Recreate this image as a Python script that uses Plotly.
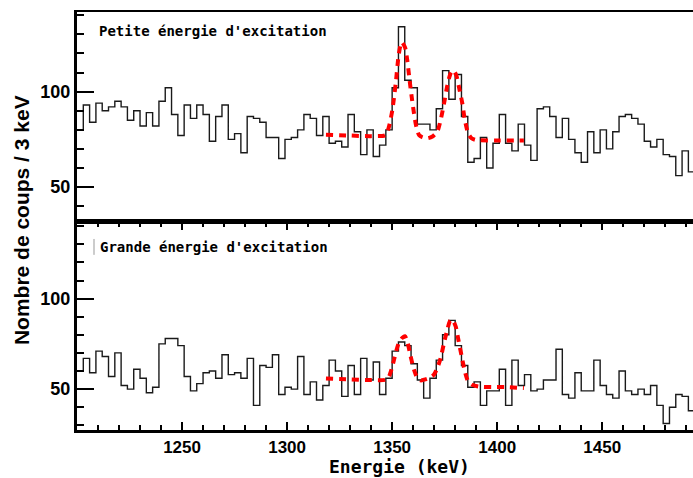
"""Two gamma spectra (3 keV bins) around 1350 keV, low and high excitation energy,
each with its two-peak fit drawn as a red dashed curve."""

import numpy as np
import plotly.graph_objects as go

BIN_START = 1200.0   # keV, left edge of the first bin
BIN_WIDTH = 3.0      # keV per bin

# counts per 3 keV bin, bins from 1200 keV upwards
counts_low = [
    80, 93, 84, 94, 90, 92, 95, 92, 85, 90,
    82, 89, 82, 95, 102, 88, 77, 93, 86, 93,
    88, 74, 87, 93, 75, 78, 68, 87, 86, 84,
    76, 76, 65, 75, 76, 80, 88, 86, 77, 87,
    73, 74, 71, 88, 79, 67, 80, 66, 72, 80,
    102, 134, 106, 102, 83, 83, 80, 91, 111, 96,
    109, 87, 63, 65, 76, 60, 73, 88, 73, 69,
    83, 72, 64, 91, 92, 87, 76, 86, 75, 68,
    63, 79, 68, 80, 70, 79, 87, 88, 86, 83,
    74, 71, 75, 67, 66, 56, 69, 58,
]
counts_high = [
    60, 67, 59, 71, 68, 57, 70, 52, 50, 61,
    56, 48, 51, 75, 78, 78, 74, 57, 49, 53,
    59, 60, 56, 69, 58, 59, 56, 67, 41, 63,
    62, 69, 47, 51, 50, 68, 47, 54, 44, 52,
    66, 60, 46, 63, 47, 67, 55, 65, 47, 56,
    71, 76, 74, 64, 55, 45, 56, 66, 80, 88,
    74, 63, 51, 54, 41, 49, 49, 61, 41, 66,
    52, 58, 49, 50, 55, 55, 72, 47, 45, 59,
    49, 49, 66, 52, 47, 45, 60, 49, 47, 50,
    47, 52, 41, 31, 40, 47, 46, 38,
]

# the fitted curves, sampled along the red dashes
fit_low_e = [1318.5, 1330, 1340, 1346.9, 1348.5, 1350.1, 1351.7, 1353.2, 1354.5, 1356.1,
             1357.2, 1358.3, 1359.3, 1360.4, 1361.5, 1362.8, 1364.4, 1366.8, 1369.2, 1371.5,
             1373.1, 1374.7, 1376.3, 1377.9, 1379.1, 1380.5, 1382.1, 1383.4, 1384.6, 1386.2,
             1387.8, 1389.7, 1399.2, 1412.7]
fit_low_c = [77.4, 77.0, 76.7, 77.3, 81.7, 90.4, 104.3, 119.9, 125.9, 123.3,
             116.4, 106.0, 97.3, 88.6, 81.7, 77.3, 76.1, 75.6, 76.5, 79.1,
             85.2, 93.8, 103.4, 109.8, 111.2, 108.6, 100.8, 93.8, 85.2, 78.2,
             75.6, 74.7, 74.4, 74.4]

fit_high_e = [1318.5, 1330, 1340, 1346.9, 1348.5, 1350.1, 1351.7, 1353.2, 1354.8, 1356.1,
              1357.2, 1358.8, 1360.4, 1362.0, 1363.6, 1365.2, 1367.5, 1369.9, 1371.5, 1373.1,
              1374.7, 1376.3, 1377.5, 1378.6, 1380.2, 1381.5, 1383.1, 1384.6, 1386.2, 1388.1,
              1391.3, 1397.6, 1403.9, 1412.7]
fit_high_c = [55.8, 55.4, 55.0, 55.2, 57.0, 62.6, 70.0, 75.6, 78.3, 79.2,
              76.4, 68.1, 60.7, 56.1, 54.8, 55.2, 56.1, 58.0, 61.7, 67.2,
              75.6, 83.0, 87.6, 88.5, 84.8, 77.4, 68.1, 59.8, 54.2, 52.4,
              51.4, 51.1, 51.1, 50.6]

x_ticks = [1250, 1300, 1350, 1400, 1450]
y_ticks = [50, 100]

panel_low = "Petite énergie d'excitation"
panel_high = "Grande énergie d'excitation"

X_RANGE = [1200, 1493.2]
Y_RANGE_LOW = [31.6, 141.7]
Y_RANGE_HIGH = [27.4, 142.2]
SPLIT = 0.497   # paper fraction where the two panels meet

MONO = "DejaVu Sans Mono"
SANS = "Liberation Sans"


def steps(counts):
    """Bin edges and step heights for an outline histogram drawn with line_shape='hv'."""
    edges = BIN_START + BIN_WIDTH * np.arange(len(counts) + 1)
    return edges, list(counts) + [counts[-1]]


fig = go.Figure()

for counts, fe, fc, xa, ya in [(counts_low, fit_low_e, fit_low_c, "x", "y"),
                               (counts_high, fit_high_e, fit_high_c, "x2", "y2")]:
    ex, ey = steps(counts)
    fig.add_trace(go.Scatter(x=ex, y=ey, mode="lines", line_shape="hv",
                             line=dict(color="#1a1a1a", width=1.4),
                             xaxis=xa, yaxis=ya, showlegend=False))
    fig.add_trace(go.Scatter(x=fe, y=fc, mode="lines",
                             line=dict(color="#ff0000", width=4, dash="7px,6px",
                                       shape="spline", smoothing=0.7),
                             xaxis=xa, yaxis=ya, showlegend=False))

yaxis_common = dict(
    tickvals=y_ticks, ticks="inside", ticklen=17, tickwidth=1.5, tickcolor="black",
    minor=dict(dtick=10, tick0=0, ticks="inside", ticklen=7, tickwidth=1.5, tickcolor="black"),
    showline=True, linecolor="black", linewidth=3, showgrid=False, zeroline=False,
    tickfont=dict(family=SANS, size=18, weight="bold", color="black"),
)

fig.update_layout(
    width=693, height=478,
    margin=dict(l=77, r=0, t=12, b=48),
    paper_bgcolor="white", plot_bgcolor="white",
    xaxis=dict(domain=[0, 1], anchor="y", range=X_RANGE, showticklabels=False,
               ticks="", showline=True, mirror=True, linecolor="black", linewidth=2,
               showgrid=False, zeroline=False, matches="x2"),
    yaxis=dict(domain=[SPLIT, 1], anchor="x", range=Y_RANGE_LOW, **yaxis_common),
    xaxis2=dict(domain=[0, 1], anchor="y2", range=X_RANGE, tickvals=x_ticks,
                ticks="inside", ticklen=8, tickwidth=1.5, tickcolor="black",
                minor=dict(dtick=10, tick0=1200, ticks="inside", ticklen=5,
                           tickwidth=1.5, tickcolor="black"),
                showline=True, mirror="ticks", linecolor="black", linewidth=2.5,
                showgrid=False, zeroline=False,
                tickfont=dict(family=SANS, size=17, weight="bold", color="black")),
    yaxis2=dict(domain=[0, SPLIT], anchor="x2", range=Y_RANGE_HIGH, **yaxis_common),
)

fig.add_annotation(text=panel_low, xref="paper", yref="paper", x=0.0325, y=0.955,
                   xanchor="left", yanchor="middle", showarrow=False,
                   font=dict(family=MONO, size=14, weight="bold", color="black"))
fig.add_annotation(text=panel_high, xref="paper", yref="paper", x=0.034, y=0.438,
                   xanchor="left", yanchor="middle", showarrow=False,
                   font=dict(family=MONO, size=14, weight="bold", color="black"))
# the small grey bar that sits in front of the lower label
fig.add_shape(type="line", xref="paper", yref="paper", x0=0.0276, x1=0.0276,
              y0=0.419, y1=0.457, line=dict(color="#999999", width=1))

fig.add_annotation(text="Nombre de coups / 3 keV", xref="paper", yref="paper",
                   x=-0.091, y=0.502, textangle=-90, showarrow=False,
                   xanchor="center", yanchor="middle",
                   font=dict(family=SANS, size=21, weight="bold", color="black"))
fig.add_annotation(text="Energie (keV)", xref="paper", yref="paper",
                   x=0.524, y=-0.0885, showarrow=False, xanchor="center", yanchor="middle",
                   font=dict(family=MONO, size=18, weight="bold", color="black"))

# the page's default 8px body margin would push the fixed-size figure off the window
fig.write_html("out.html", config=dict(displayModeBar=False),
               post_script="document.body.style.margin = '0';")
